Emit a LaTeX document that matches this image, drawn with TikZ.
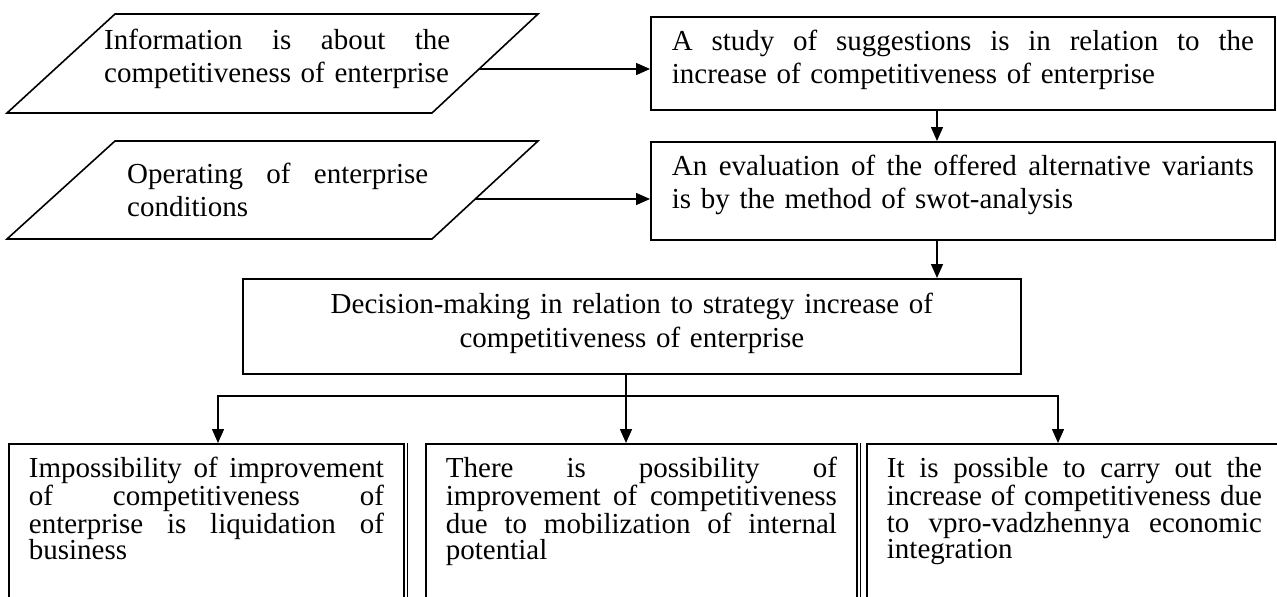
\documentclass[tikz,border=0pt]{standalone}
\usepackage{fontspec}
\setmainfont{Liberation Serif}
\usetikzlibrary{arrows.meta}
\newcommand\jl[2]{\makebox[#1][s]{\spaceskip=0pt\xspaceskip=0pt #2}}
\begin{document}
\begin{tikzpicture}[x=1pt,y=-1pt,
  box/.style={draw, line width=1.8pt, anchor=north west, inner ysep=0pt, inner xsep=21pt, align=left, font=\fontsize{29}{33}\selectfont},
  bbox/.style={box, inner xsep=20pt, font=\fontsize{29}{26.5}\selectfont},
  ptext/.style={anchor=base west, inner sep=0pt, align=left, font=\fontsize{29}{33}\selectfont},
  pg/.style={draw, line width=1.6pt, line join=miter},
  arr/.style={line width=1.4pt, -{Triangle[length=14pt,width=12pt]}},
  dbl/.style={line width=0.8pt}]
\useasboundingbox (0,0) rectangle (1277,597);
\clip (0,0) rectangle (1277,597);
\fill[white] (0,0) rectangle (1277,597);

% input parallelograms
\draw[pg] (115,14) -- (538,14) -- (432,113) -- (7,113) -- cycle;
\node[ptext, text width=346pt] (P1) at (104,49) {\jl{346pt}{Information is about the}\\competitiveness of enterprise};
\coordinate (P1e) at (479,69);

\draw[pg] (115,141) -- (538,141) -- (432,239) -- (7,239) -- cycle;
\node[ptext, text width=301pt] (P2) at (127,183) {\jl{301pt}{Operating of enterprise}\\conditions};
\coordinate (P2e) at (475,199);

% process boxes
\node[box, text width=582pt, text height=34pt, text depth=59pt] (A) at (650,16)
  {\jl{582pt}{A study of suggestions is in relation to the}\\increase of competitiveness of enterprise};
\node[box, text width=582pt, text height=34pt, text depth=64pt] (B) at (650,141)
  {\jl{582pt}{An evaluation of the offered alternative variants}\\is by the method of swot-analysis};
\node[box, text width=700pt, inner xsep=39pt, align=center, text height=35pt, text depth=60pt,
  font=\fontsize{29}{34}\selectfont] (C) at (242,278)
  {Decision-making in relation to strategy increase of\\competitiveness of enterprise};

% outcome boxes
\node[bbox, text width=355pt, text height=34pt, text depth=176pt] (D1) at (8,443)
  {\jl{355pt}{Impossibility of improvement}\\\jl{355pt}{of competitiveness of}\\\jl{355pt}{enterprise is liquidation of}\\business};
\node[bbox, text width=391pt, text height=34pt, text depth=176pt] (D2) at (425,443)
  {\jl{391pt}{There is possibility of}\\\jl{391pt}{improvement of competitiveness}\\\jl{391pt}{due to mobilization of internal}\\potential};
\node[bbox, text width=375pt, text height=34pt, text depth=176pt] (D3) at (866,443)
  {\jl{375pt}{It is possible to carry out the}\\\jl{375pt}{increase of competitiveness due}\\\jl{375pt}{to vpro-vadzhennya economic}\\integration};
\draw[dbl] ([xshift=3pt]D1.north east) -- ([xshift=3pt]D1.south east);
\draw[dbl] ([xshift=3pt]D2.north east) -- ([xshift=3pt]D2.south east);

% connectors
\draw[arr] (P1e) -- (P1e -| A.west);
\draw[arr] (P2e) -- (P2e -| B.west);
\coordinate (xa) at (937,0);
\draw[arr] (A.south -| xa) -- (B.north -| xa);
\draw[arr] (B.south -| xa) -- (C.north -| xa);
\coordinate (t) at (626,396);
\coordinate (l) at (218,396);
\coordinate (r) at (1058,396);
\draw[arr, line width=1.6pt] (C.south -| t) -- (D2.north -| t);
\draw[arr] (t) -- (l) -- (D1.north -| l);
\draw[arr] (t) -- (r) -- (D3.north -| r);
\end{tikzpicture}
\end{document}
